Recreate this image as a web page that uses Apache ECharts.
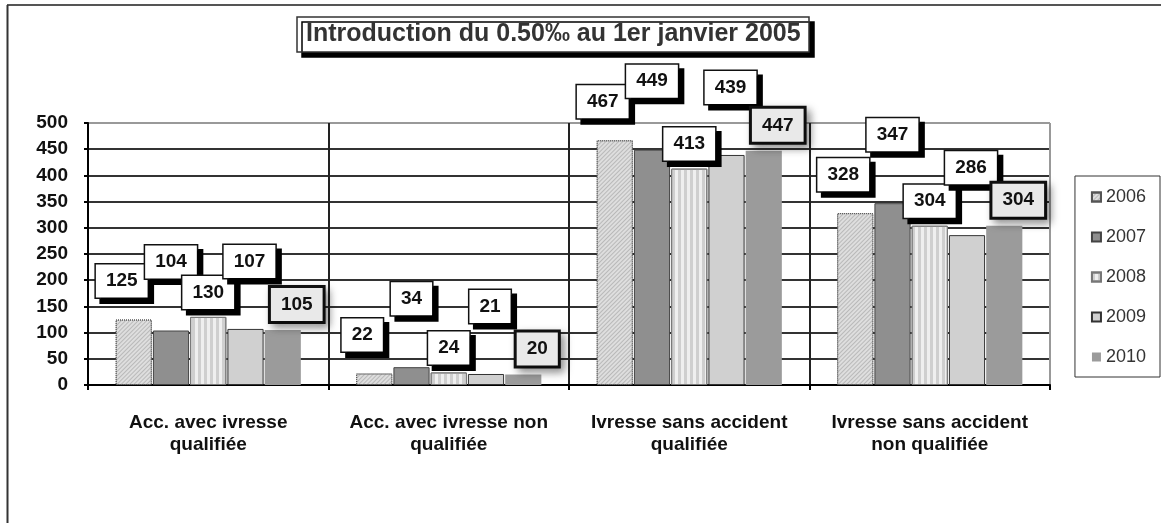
<!DOCTYPE html>
<html>
<head>
<meta charset="utf-8">
<script src="https://cdn.jsdelivr.net/npm/echarts@6/dist/echarts.min.js"></script>
<style>
  html, body { margin: 0; padding: 0; background: #fff; }
  #main { width: 1161px; height: 523px; }
</style>
</head>
<body>
<div id="main"></div>
<script>
// categories and values
var categories = [
  'Acc. avec ivresse\nqualifiée',
  'Acc. avec ivresse non\nqualifiée',
  'Ivresse sans accident\nqualifiée',
  'Ivresse sans accident\nnon qualifiée'
]
var years = ['2006', '2007', '2008', '2009', '2010']
var v2006 = [125, 22, 467, 328]
var v2007 = [104, 34, 449, 347]
var v2008 = [130, 24, 413, 304]
var v2009 = [107, 21, 439, 286]
var v2010 = [105, 20, 447, 304]
var titleText = 'Introduction du 0.50‰ au 1er janvier 2005'

var values = [v2006, v2007, v2008, v2009, v2010]

// look of each year
var styles = [
  { color: '#dedede', borderColor: '#555', borderWidth: 1, borderType: 'dotted',
    decal: { symbol: 'rect', symbolSize: 1, color: 'rgba(140,140,140,0.45)', dashArrayX: [1, 0], dashArrayY: [1, 2], rotation: -Math.PI / 4 } },
  { color: '#8f8f8f', borderColor: '#444', borderWidth: 1 },
  { color: '#efefef', borderColor: '#777', borderWidth: 1,
    decal: { symbol: 'rect', symbolSize: 1, color: 'rgba(180,180,180,0.55)', dashArrayX: [3, 3], dashArrayY: [1, 0] } },
  { color: '#d0d0d0', borderColor: '#333', borderWidth: 1 },
  { color: '#9b9b9b', borderWidth: 0 }
]
var labelOffsets = [[-12, -22], [0, -52], [0, -8], [4, -51], [14, -9]]

var baseLabel = {
  show: true,
  position: 'top',
  distance: 0,
  fontFamily: 'Liberation Sans',
  fontSize: 19,
  fontWeight: 'bold',
  color: '#111',
  backgroundColor: '#fff',
  borderColor: '#111',
  borderWidth: 1.5,
  padding: [7, 10],
  shadowColor: '#000',
  shadowOffsetX: 5,
  shadowOffsetY: 5,
  shadowBlur: 0
}

var series = years.map(function (y, i) {
  var label = Object.assign({}, baseLabel, { offset: labelOffsets[i] })
  if (i === 4) {
    label = Object.assign(label, {
      backgroundColor: '#e9e9e9',
      borderWidth: 3,
      shadowColor: 'rgba(0,0,0,0.35)',
      shadowBlur: 8,
      shadowOffsetX: 4,
      shadowOffsetY: 4
    })
  }
  return {
    name: y,
    type: 'bar',
    data: values[i],
    barGap: '3%',
    barCategoryGap: '23%',
    itemStyle: styles[i],
    label: label
  }
})

var gridColors = ['#333', '#333', '#333', '#333', '#333', '#333', '#333', '#333', '#333', '#333', '#999']

var chart = echarts.init(document.getElementById('main'))
chart.setOption({
  animation: false,
  backgroundColor: '#fff',
  title: {
    text: titleText,
    left: 297,
    top: 17,
    padding: [5, 9],
    backgroundColor: '#fff',
    borderColor: '#333',
    borderWidth: 1.5,
    shadowColor: '#000',
    shadowOffsetX: 5,
    shadowOffsetY: 5,
    shadowBlur: 0,
    textStyle: { fontFamily: 'Liberation Sans', fontSize: 25, fontWeight: 'bold', color: '#333' }
  },
  legend: {
    data: years,
    orient: 'vertical',
    right: 1,
    top: 176,
    itemGap: 22,
    itemWidth: 9,
    itemHeight: 9,
    icon: 'rect',
    padding: [12, 14, 11, 16],
    borderColor: '#333',
    borderWidth: 1,
    backgroundColor: '#fff',
    textStyle: { fontFamily: 'Liberation Sans', fontSize: 18, color: '#333' }
  },
  grid: { left: 88, right: 111, top: 123, bottom: 138, containLabel: false },
  xAxis: {
    type: 'category',
    data: categories,
    axisLine: { lineStyle: { color: '#000', width: 2 } },
    axisTick: { show: true, length: 5, lineStyle: { color: '#000', width: 2 } },
    splitLine: { show: true, lineStyle: { color: ['#222', '#222', '#222', '#222', '#999'], width: 2 } },
    axisLabel: {
      interval: 0,
      margin: 27,
      lineHeight: 22,
      fontFamily: 'Liberation Sans',
      fontSize: 19,
      fontWeight: 'bold',
      color: '#111'
    }
  },
  yAxis: {
    type: 'value',
    min: 0,
    max: 500,
    interval: 50,
    axisLine: { show: true, lineStyle: { color: '#000', width: 2 } },
    axisTick: { show: true, length: 4, lineStyle: { color: '#000', width: 2 } },
    splitLine: { show: true, lineStyle: { color: gridColors, width: 2 } },
    axisLabel: {
      margin: 20,
      fontFamily: 'Liberation Sans',
      fontSize: 19,
      fontWeight: 'bold',
      color: '#111'
    }
  },
  graphic: [
    { type: 'line', shape: { x1: 7, y1: 5, x2: 1161, y2: 5 }, style: { stroke: '#555', lineWidth: 2 } },
    { type: 'line', shape: { x1: 7.5, y1: 5, x2: 7.5, y2: 523 }, style: { stroke: '#333', lineWidth: 2 } }
  ],
  series: series
})
</script>
</body>
</html>
